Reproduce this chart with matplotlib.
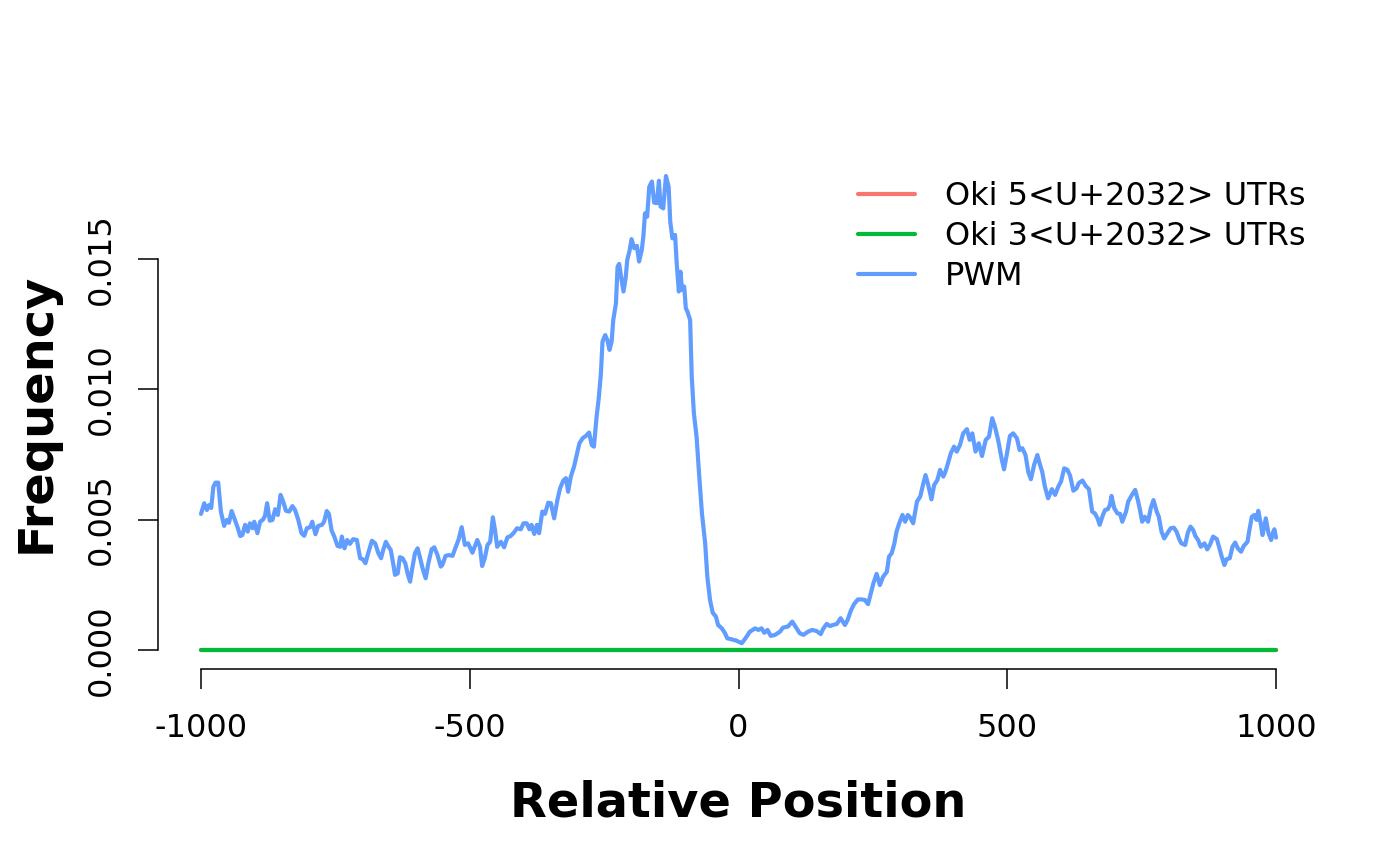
import matplotlib
matplotlib.use("Agg")
import matplotlib.pyplot as plt

# relative position (nt) and PWM hit frequency
pos = [-1000, -994, -989, -985, -981, -977, -973, -968, -963, -957, -952, -948, -943, -938,
       -932, -927, -923, -918, -913, -909, -904, -901, -895, -890, -885, -881, -877, -872,
       -867, -862, -857, -852, -847, -842, -836, -830, -825, -819, -813, -808, -803, -797,
       -793, -787, -782, -775, -771, -766, -762, -757, -752, -746, -741, -738, -733, -728,
       -723, -717, -710, -704, -699, -694, -689, -682, -676, -670, -665, -661, -656, -652,
       -647, -642, -639, -634, -630, -625, -620, -615, -611, -607, -602, -597, -593, -587,
       -582, -577, -571, -566, -560, -554, -551, -545, -539, -532, -527, -521, -515, -509,
       -503, -495, -486, -481, -477, -472, -467, -462, -457, -453, -449, -442, -436, -430,
       -424, -418, -412, -405, -400, -394, -389, -385, -380, -375, -371, -365, -360, -354,
       -349, -343, -337, -332, -326, -321, -317, -312, -306, -301, -296, -290, -284, -278,
       -273, -269, -264, -260, -256, -253, -248, -244, -240, -236, -233, -228, -225, -222,
       -219, -214, -210, -207, -203, -199, -194, -189, -185, -180, -177, -174, -170, -166,
       -161, -157, -152, -148, -145, -140, -135, -130, -127, -123, -118, -115, -111, -108,
       -105, -101, -98, -95, -90, -87, -83, -78, -73, -68, -62, -58, -53, -48, -42, -38,
       -31, -25, -21, -13, -4, 6, 13, 21, 31, 37, 43, 48, 54, 60, 68, 77, 83, 92, 100, 106,
       114, 121, 129, 137, 145, 153, 158, 164, 170, 176, 183, 190, 198, 203, 209, 215, 222,
       229, 235, 241, 247, 251, 257, 263, 269, 276, 280, 285, 290, 294, 299, 305, 310, 315,
       319, 325, 332, 338, 344, 348, 353, 359, 364, 370, 375, 381, 385, 390, 395, 401, 406,
       412, 418, 425, 430, 435, 441, 447, 453, 460, 466, 472, 477, 483, 490, 494, 499, 505,
       511, 518, 523, 528, 534, 539, 544, 550, 556, 561, 565, 570, 576, 583, 589, 595, 600,
       606, 612, 617, 623, 629, 633, 640, 646, 652, 658, 663, 668, 672, 678, 682, 687, 691,
       694, 699, 705, 710, 714, 721, 725, 732, 738, 743, 747, 751, 756, 762, 767, 772, 778,
       782, 787, 792, 798, 804, 810, 815, 820, 824, 831, 836, 841, 846, 850, 855, 860, 867,
       872, 877, 883, 890, 894, 899, 904, 908, 914, 919, 924, 929, 935, 940, 947, 950, 955,
       960, 964, 967, 972, 975, 981, 986, 991, 995, 997, 1000]
pwm = [0.00522, 0.00563, 0.00537, 0.00556, 0.00545, 0.00626, 0.00642, 0.00642, 0.00531,
       0.00476, 0.00499, 0.00488, 0.00533, 0.00505, 0.00471, 0.00437, 0.00441, 0.00480,
       0.00454, 0.00486, 0.00467, 0.00492, 0.00448, 0.00492, 0.00499, 0.00514, 0.00563,
       0.00496, 0.00499, 0.00540, 0.00518, 0.00595, 0.00569, 0.00534, 0.00531, 0.00552,
       0.00537, 0.00499, 0.00448, 0.00438, 0.00467, 0.00471, 0.00492, 0.00444, 0.00476,
       0.00480, 0.00492, 0.00533, 0.00522, 0.00458, 0.00435, 0.00399, 0.00396, 0.00435,
       0.00390, 0.00422, 0.00407, 0.00425, 0.00422, 0.00352, 0.00348, 0.00333, 0.00371,
       0.00419, 0.00409, 0.00371, 0.00352, 0.00384, 0.00415, 0.00399, 0.00384, 0.00326,
       0.00288, 0.00294, 0.00356, 0.00352, 0.00333, 0.00288, 0.00262, 0.00313, 0.00371,
       0.00390, 0.00358, 0.00307, 0.00275, 0.00333, 0.00386, 0.00394, 0.00364, 0.00320,
       0.00326, 0.00361, 0.00364, 0.00361, 0.00390, 0.00422, 0.00471, 0.00403, 0.00409,
       0.00373, 0.00422, 0.00396, 0.00322, 0.00352, 0.00403, 0.00415, 0.00509, 0.00460,
       0.00396, 0.00415, 0.00394, 0.00432, 0.00437, 0.00450, 0.00467, 0.00463, 0.00486,
       0.00486, 0.00463, 0.00480, 0.00445, 0.00480, 0.00448, 0.00531, 0.00522, 0.00565,
       0.00563, 0.00505, 0.00575, 0.00620, 0.00650, 0.00659, 0.00607, 0.00665, 0.00703,
       0.00748, 0.00793, 0.00812, 0.00821, 0.00834, 0.00786, 0.00780, 0.00895, 0.00966,
       0.01061, 0.01183, 0.01208, 0.01189, 0.01151, 0.01183, 0.01266, 0.01330, 0.01470,
       0.01481, 0.01439, 0.01375, 0.01426, 0.01496, 0.01528, 0.01576, 0.01541, 0.01550,
       0.01490, 0.01534, 0.01586, 0.01675, 0.01662, 0.01777, 0.01797, 0.01716, 0.01714,
       0.01800, 0.01701, 0.01694, 0.01818, 0.01777, 0.01643, 0.01579, 0.01592, 0.01484,
       0.01375, 0.01451, 0.01381, 0.01394, 0.01311, 0.01298, 0.01266, 0.01049, 0.00908,
       0.00818, 0.00665, 0.00524, 0.00409, 0.00281, 0.00192, 0.00143, 0.00128, 0.00096,
       0.00083, 0.00064, 0.00045, 0.00041, 0.00036, 0.00026, 0.00045, 0.00070, 0.00083,
       0.00077, 0.00083, 0.00066, 0.00077, 0.00054, 0.00058, 0.00070, 0.00086, 0.00090,
       0.00109, 0.00090, 0.00064, 0.00058, 0.00070, 0.00077, 0.00073, 0.00061, 0.00083,
       0.00100, 0.00092, 0.00096, 0.00100, 0.00122, 0.00096, 0.00115, 0.00151, 0.00176,
       0.00194, 0.00194, 0.00192, 0.00176, 0.00224, 0.00256, 0.00292, 0.00249, 0.00281,
       0.00300, 0.00358, 0.00371, 0.00409, 0.00454, 0.00486, 0.00518, 0.00492, 0.00518,
       0.00509, 0.00486, 0.00569, 0.00588, 0.00640, 0.00671, 0.00633, 0.00578, 0.00633,
       0.00652, 0.00691, 0.00665, 0.00684, 0.00718, 0.00755, 0.00780, 0.00761, 0.00786,
       0.00831, 0.00847, 0.00806, 0.00831, 0.00761, 0.00793, 0.00744, 0.00806, 0.00818,
       0.00889, 0.00857, 0.00806, 0.00729, 0.00693, 0.00748, 0.00821, 0.00831, 0.00812,
       0.00767, 0.00774, 0.00748, 0.00684, 0.00655, 0.00710, 0.00748, 0.00710, 0.00684,
       0.00627, 0.00582, 0.00617, 0.00595, 0.00627, 0.00646, 0.00697, 0.00691, 0.00668,
       0.00611, 0.00620, 0.00640, 0.00650, 0.00629, 0.00617, 0.00531, 0.00524, 0.00505,
       0.00480, 0.00518, 0.00537, 0.00540, 0.00556, 0.00591, 0.00544, 0.00524, 0.00522,
       0.00492, 0.00531, 0.00569, 0.00595, 0.00614, 0.00575, 0.00537, 0.00492, 0.00511,
       0.00492, 0.00544, 0.00575, 0.00531, 0.00511, 0.00454, 0.00428, 0.00448, 0.00467,
       0.00469, 0.00454, 0.00425, 0.00409, 0.00403, 0.00450, 0.00473, 0.00460, 0.00437,
       0.00422, 0.00396, 0.00409, 0.00386, 0.00403, 0.00435, 0.00425, 0.00396, 0.00358,
       0.00326, 0.00348, 0.00352, 0.00396, 0.00412, 0.00390, 0.00377, 0.00399, 0.00415,
       0.00454, 0.00511, 0.00518, 0.00499, 0.00534, 0.00480, 0.00441, 0.00505, 0.00448,
       0.00422, 0.00454, 0.00463, 0.00431]

# the two UTR sets have no hits: flat zero lines
utr_pos = [-1000, 1000]
utr5 = [0.0, 0.0]
utr3 = [0.0, 0.0]

labels = ["Oki 5<U+2032> UTRs", "Oki 3<U+2032> UTRs", "PWM"]
colors = ["#F8766D", "#00BA38", "#619CFF"]

xticks = [-1000, -500, 0, 500, 1000]
yticks = [0.000, 0.005, 0.010, 0.015]

fig = plt.figure(figsize=(14, 8.65), dpi=100)
ax = fig.add_axes([158 / 1400, 1 - 669 / 865, (1319 - 158) / 1400, (669 - 157) / 865])

ax.plot(utr_pos, utr5, color=colors[0], lw=3, label=labels[0], solid_capstyle="round")
ax.plot(utr_pos, utr3, color=colors[1], lw=3, label=labels[1], solid_capstyle="round")
ax.plot(pos, pwm, color=colors[2], lw=3, label=labels[2], solid_capstyle="round")

ax.set_xlim(-1080, 1080)
ax.set_ylim(-0.000729, 0.01891)

for s in ["top", "right"]:
    ax.spines[s].set_visible(False)
ax.spines["left"].set_bounds(yticks[0], yticks[-1])
ax.spines["bottom"].set_bounds(xticks[0], xticks[-1])
ax.spines["left"].set_linewidth(1.1)
ax.spines["bottom"].set_linewidth(1.1)

ax.set_xticks(xticks)
ax.set_xticklabels([str(t) for t in xticks])
ax.set_yticks(yticks)
ax.set_yticklabels(["%.3f" % t for t in yticks], rotation=90, va="center")
ax.tick_params(axis="both", direction="out", length=14.4, width=1.1, labelsize=23)
ax.tick_params(axis="x", pad=17)
ax.tick_params(axis="y", pad=15)

ax.set_xlabel("Relative Position", fontsize=34.5, fontweight="bold", labelpad=26)
ax.set_ylabel("Frequency", fontsize=34.5, fontweight="bold", labelpad=19)

ax.legend(loc="upper left", bbox_to_anchor=(858 / 1400, 1 - 181 / 865),
          bbox_transform=fig.transFigure, frameon=False, fontsize=23,
          handlelength=1.79, handletextpad=0.94, labelspacing=0.28,
          borderpad=0, borderaxespad=0)

fig.savefig("out.png", dpi=100)
